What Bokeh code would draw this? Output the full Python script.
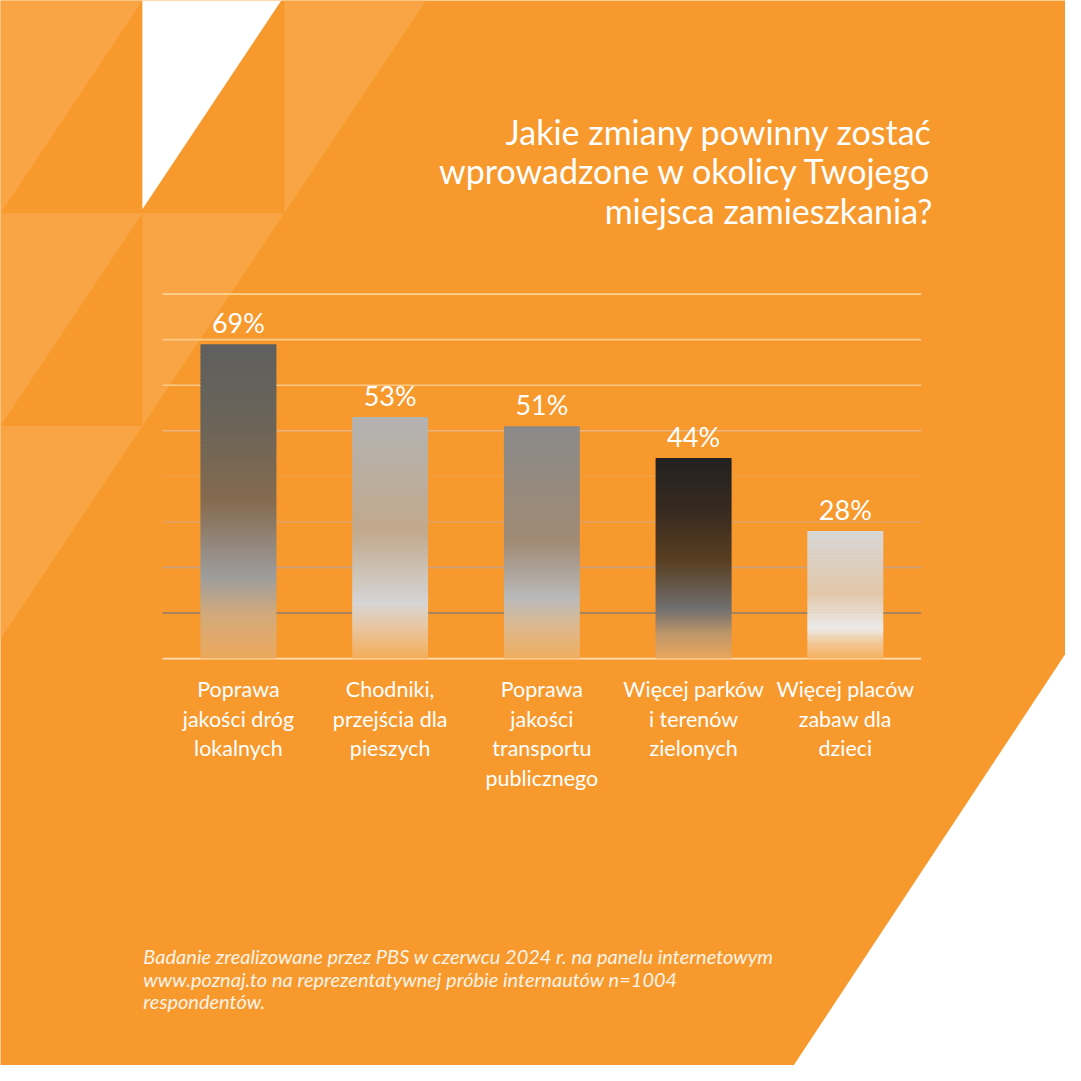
from bokeh.plotting import figure
from bokeh.models import Range1d
from bokeh.core.properties import value
from bokeh.embed import file_html
from bokeh.resources import INLINE

# ---------------- data ----------------
categories = [
    "Poprawa\njakości dróg\nlokalnych",
    "Chodniki,\nprzejścia dla\npieszych",
    "Poprawa\njakości\ntransportu\npublicznego",
    "Więcej parków\ni terenów\nzielonych",
    "Więcej placów\nzabaw dla\ndzieci",
]
values = [69, 53, 51, 44, 28]
value_labels = ["69%", "53%", "51%", "44%", "28%"]
grid_values = [0, 10, 20, 30, 40, 50, 60, 70, 80]
title_lines = [
    "Jakie zmiany powinny zostać",
    "wprowadzone w okolicy Twojego",
    "miejsca zamieszkania?",
]
note_lines = [
    "Badanie zrealizowane przez PBS w czerwcu 2024 r. na panelu internetowym",
    "www.poznaj.to na reprezentatywnej próbie internautów n=1004",
    "respondentów.",
]

# ---------------- style ----------------
ORANGE = "#F7992D"
LIGHT = "#F9A546"
WHITE = "#FFFFFF"
FONT = value("Lato")

# gradient stops per bar: (fraction from top, colour)
bar_stops = [
    [(0.0, "#5f5f5f"), (0.25, "#6b6459"), (0.5, "#856b4f"), (0.74, "#9d9d9d"), (0.86, "#d2aa7c"), (1.0, "#eca85c")],
    [(0.0, "#b3b3b3"), (0.47, "#c2a98c"), (0.77, "#d5d5d5"), (0.87, "#e8c6a0"), (1.0, "#f4ad58")],
    [(0.0, "#8a8a8a"), (0.49, "#a08a74"), (0.74, "#b9b9b9"), (0.86, "#dcb98f"), (1.0, "#f0ad5e")],
    [(0.0, "#222222"), (0.25, "#362a20"), (0.51, "#593e22"), (0.75, "#6f6f6f"), (0.88, "#c0976a"), (1.0, "#e9a65b")],
    [(0.0, "#d8d8d8"), (0.49, "#e2c8ab"), (0.76, "#ebebeb"), (0.88, "#f2c796"), (1.0, "#f6b060")],
]
grid_colors = ["#fde0b8", "#8f7a6a", "#c9a285", "#e5a060", "#f39f3e",
               "#e9b382", "#fbcb87", "#fbcb87", "#fbd38f"]


def hex2rgb(h):
    h = h.lstrip("#")
    return tuple(int(h[i:i + 2], 16) for i in (0, 2, 4))


def interp(stops, t):
    for (t0, c0), (t1, c1) in zip(stops[:-1], stops[1:]):
        if t0 <= t <= t1:
            f = 0 if t1 == t0 else (t - t0) / (t1 - t0)
            a, b = hex2rgb(c0), hex2rgb(c1)
            return "#%02x%02x%02x" % tuple(int(round(a[k] + (b[k] - a[k]) * f)) for k in range(3))
    return stops[-1][1]


W = H = 1065
p = figure(width=W, height=H, output_backend="svg", toolbar_location=None,
           x_range=Range1d(-1.5682, 5.4513), y_range=Range1d(-89.30, 144.43),
           min_border=0, x_axis_type=None, y_axis_type=None)
p.grid.visible = False
p.outline_line_color = None
p.background_fill_color = ORANGE
p.border_fill_color = ORANGE
# reference-layout ranges for decoration and free text
p.extra_x_ranges = {"px": Range1d(0, 1081)}
p.extra_y_ranges = {"py": Range1d(1081, 0)}

# ---------------- background decoration ----------------
light_tris_x = [[0, 144, 0], [288, 432, 288], [0, 144, 0], [144, 288, 144], [0, 144, 0]]
light_tris_y = [[0, 0, 216], [0, 0, 216], [216, 216, 432], [216, 216, 432], [432, 432, 648]]
p.patches(light_tris_x, light_tris_y, fill_color=LIGHT, line_color=None,
          x_range_name="px", y_range_name="py")
p.patches([[144, 285, 144], [1081, 1081, 805]], [[0, 0, 212], [663, 1081, 1081]],
          fill_color=WHITE, line_color=None, x_range_name="px", y_range_name="py")

# ---------------- grid lines ----------------
n = len(values)
p.segment(x0=[-0.5] * len(grid_values), x1=[n - 0.5] * len(grid_values),
          y0=grid_values, y1=grid_values, line_color=grid_colors, line_width=1.6)

# ---------------- gradient bars ----------------
N = 80
xs, bots, tops, cols = [], [], [], []
for i, v in enumerate(values):
    for k in range(N):
        t = (k + 0.5) / N
        xs.append(i)
        tops.append(v * (1 - k / N))
        bots.append(max(0.0, v * (1 - (k + 1) / N) - v * 0.004))
        cols.append(interp(bar_stops[i], t))
p.vbar(x=xs, bottom=bots, top=tops, width=0.5, fill_color=cols, line_color=None)

# ---------------- value labels ----------------
p.text(x=list(range(n)), y=values, text=value_labels, text_align="center",
       text_baseline="bottom", y_offset=-5, text_color=WHITE,
       text_font=FONT, text_font_size="27px")

# ---------------- category labels ----------------
lx, ly, lt = [], [], []
for i, c in enumerate(categories):
    for j, line in enumerate(c.split("\n")):
        lx.append(i)
        ly.append(699 + 30 * j)
        lt.append(line)
p.text(x=lx, y=ly, text=lt, y_range_name="py", text_align="center",
       text_baseline="middle", text_color=WHITE, text_font=FONT,
       text_font_size="21.5px")

# ---------------- title ----------------
p.text(x=[946] * 3, y=[133, 173, 213], text=title_lines, x_range_name="px",
       y_range_name="py", text_align="right", text_baseline="middle",
       text_color=WHITE, text_font=FONT, text_font_size="34px")

# ---------------- footnote ----------------
p.text(x=[145] * 3, y=[970, 993, 1016], text=note_lines, x_range_name="px",
       y_range_name="py", text_align="left", text_baseline="middle",
       text_color="#FDF3E6", text_font=FONT, text_font_style="italic",
       text_font_size="20px")

open("out.html", "w").write(file_html(p, INLINE))
